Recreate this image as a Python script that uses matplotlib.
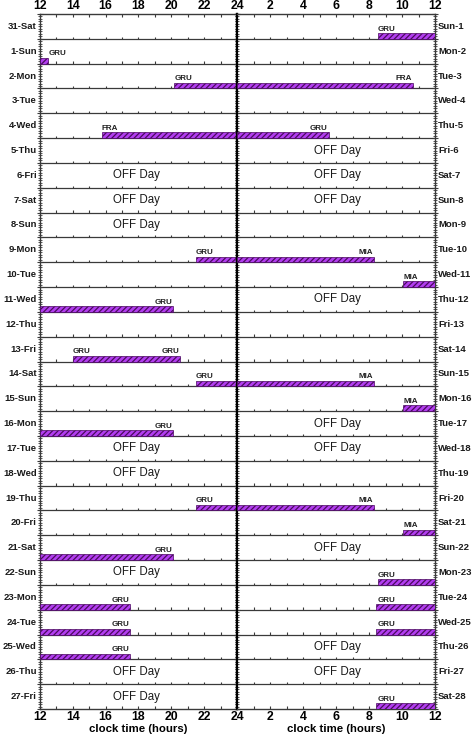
import matplotlib
matplotlib.use("Agg")
import matplotlib.pyplot as plt
import numpy as np
from matplotlib.transforms import blended_transform_factory

plt.rcParams['font.family'] = ['Liberation Sans', 'DejaVu Sans']
plt.rcParams['hatch.linewidth'] = 0.9

# ---- data ----
left_days = ["31-Sat", "1-Sun", "2-Mon", "3-Tue", "4-Wed", "5-Thu", "6-Fri", "7-Sat",
             "8-Sun", "9-Mon", "10-Tue", "11-Wed", "12-Thu", "13-Fri", "14-Sat", "15-Sun",
             "16-Mon", "17-Tue", "18-Wed", "19-Thu", "20-Fri", "21-Sat", "22-Sun", "23-Mon",
             "24-Tue", "25-Wed", "26-Thu", "27-Fri"]
right_days = ["Sun-1", "Mon-2", "Tue-3", "Wed-4", "Thu-5", "Fri-6", "Sat-7", "Sun-8",
              "Mon-9", "Tue-10", "Wed-11", "Thu-12", "Fri-13", "Sat-14", "Sun-15", "Mon-16",
              "Tue-17", "Wed-18", "Thu-19", "Fri-20", "Sat-21", "Sun-22", "Mon-23", "Tue-24",
              "Wed-25", "Thu-26", "Fri-27", "Sat-28"]

# duty bars: row index, start and end in continuous hours (12 = noon, 24 = midnight, 36 = next noon)
bar_rows  = [0, 1, 2, 4, 9, 10, 11, 13, 14, 15, 16, 19, 20, 21, 22, 23, 23, 24, 24, 25, 27]
bar_start = [32.55, 12.0, 20.18, 15.75, 21.48, 34.07, 12.0, 13.98, 21.48, 34.07, 12.0,
             21.48, 34.07, 12.0, 32.57, 12.0, 32.45, 12.0, 32.45, 12.0, 32.45]
bar_end   = [36.0, 12.5, 34.68, 29.58, 32.33, 36.0, 20.1, 20.52, 32.33, 36.0, 20.1,
             32.33, 36.0, 20.1, 36.0, 17.47, 36.0, 17.5, 36.0, 17.5, 36.0]

# airport labels
lab_rows = [0, 1, 2, 2, 4, 4, 9, 9, 10, 11, 13, 13, 14, 14, 15, 16, 19, 19, 20, 21, 22,
            23, 23, 24, 24, 25, 27]
lab_x    = [32.55, 12.5, 20.2, 34.6, 15.75, 29.5, 21.5, 32.25, 34.1, 20.05, 14.0, 20.5,
            21.5, 32.25, 34.1, 20.05, 21.5, 32.25, 34.1, 20.05, 32.5,
            17.45, 32.5, 17.45, 32.5, 17.45, 32.5]
lab_text = ["GRU", "GRU", "GRU", "FRA", "FRA", "GRU", "GRU", "MIA", "MIA", "GRU", "GRU", "GRU",
            "GRU", "MIA", "MIA", "GRU", "GRU", "MIA", "MIA", "GRU", "GRU",
            "GRU", "GRU", "GRU", "GRU", "GRU", "GRU"]
lab_ha   = ["left", "left", "left", "right", "left", "right", "left", "right", "left", "right",
            "left", "right", "left", "right", "left", "right", "left", "right", "left", "right",
            "left", "right", "left", "right", "left", "right", "left"]

# OFF days
off_left_rows  = [6, 7, 8, 17, 18, 22, 26, 27]
off_right_rows = [5, 6, 7, 11, 16, 17, 21, 25, 26]

nrows = len(left_days)
bar_color = '#b23ef0'
hatch_color = '#4a0a5e'
line_color = '#3a3a3a'
bar_h = 0.23

fig = plt.figure(figsize=(4.73, 7.38), dpi=100)
x0, xm, x1 = 40 / 473, 237 / 473, 435 / 473
yb, yt = (738 - 709) / 738, (738 - 14) / 738
axL = fig.add_axes([x0, yb, xm - x0, yt - yb])
axR = fig.add_axes([xm, yb, x1 - xm, yt - yb], sharey=axL)
axL.set_xlim(12, 24)
axR.set_xlim(0, 12)
axL.set_ylim(nrows, 0)


def draw_bar(row, s, e):
    # split into the two panels
    if s < 24:
        a, b = s, min(e, 24)
        axL.barh(row + 1 - bar_h / 2, b - a, left=a, height=bar_h, color=bar_color,
                 edgecolor=hatch_color, linewidth=0.5, hatch='//////', zorder=3)
    if e > 24:
        a, b = max(s, 24) - 24, e - 24
        axR.barh(row + 1 - bar_h / 2, b - a, left=a, height=bar_h, color=bar_color,
                 edgecolor=hatch_color, linewidth=0.5, hatch='//////', zorder=3)


for r, s, e in zip(bar_rows, bar_start, bar_end):
    draw_bar(r, s, e)

for r, x, t, ha in zip(lab_rows, lab_x, lab_text, lab_ha):
    ax = axL if x <= 24 else axR
    xx = x if x <= 24 else x - 24
    ax.text(xx, r + 1 - bar_h - 0.1, t, ha=ha, va='baseline', fontsize=5.8,
            fontweight='bold', color='#222222', zorder=4)

for r in off_left_rows:
    axL.text(17.9, r + 0.5, "OFF Day", ha='center', va='center', fontsize=8.3, color='#1a1a1a')
for r in off_right_rows:
    axR.text(6.1, r + 0.5, "OFF Day", ha='center', va='center', fontsize=8.3, color='#1a1a1a')

# row separators with small hour ticks
for ax, hrs in ((axL, np.arange(12, 25)), (axR, np.arange(0, 13))):
    for i in range(1, nrows):
        ax.axhline(i, color=line_color, lw=0.9, zorder=2)
        ax.vlines(hrs, i - 0.09, i, color=line_color, lw=0.8, zorder=2)

# day labels
trL = blended_transform_factory(axL.transAxes, axL.transData)
trR = blended_transform_factory(axR.transAxes, axR.transData)
for i in range(nrows):
    axL.text(-0.016, i + 0.5, left_days[i], transform=trL, ha='right', va='center',
             fontsize=6.8, fontweight='bold', color='#1a1a1a')
    axR.text(1.016, i + 0.5, right_days[i], transform=trR, ha='left', va='center',
             fontsize=6.8, fontweight='bold', color='#1a1a1a')

# axes styling
axL.set_xticks(np.arange(12, 25, 2))
axL.set_xticks(np.arange(12, 25, 1), minor=True)
axR.set_xticks(np.arange(2, 13, 2))
axR.set_xticks(np.arange(0, 13, 1), minor=True)
for ax in (axL, axR):
    ax.tick_params(axis='x', which='both', top=True, bottom=True, labeltop=True,
                   labelbottom=True, direction='in', length=2.5, width=0.8,
                   color=line_color, labelsize=8.8, pad=1.5)
    for lab in ax.get_xticklabels():
        lab.set_fontweight('bold')
    ax.set_yticks(np.arange(0, nrows + 1, 1))
    ax.set_yticks(np.arange(0, nrows + 0.01, 0.1), minor=True)
    ax.tick_params(axis='y', which='major', left=True, right=True, direction='inout',
                   length=4, width=0.8, color=line_color, labelleft=False, labelright=False)
    ax.tick_params(axis='y', which='minor', left=True, right=True, direction='inout',
                   length=2.5, width=0.6, color=line_color)
    for sp in ax.spines.values():
        sp.set_color(line_color)
        sp.set_linewidth(1.0)
    ax.set_xlabel("clock time (hours)", fontsize=8.2, fontweight='bold', labelpad=0.5)
axL.spines['right'].set_linewidth(1.6)
axL.spines['right'].set_color('black')
axR.spines['left'].set_linewidth(1.6)
axR.spines['left'].set_color('black')

fig.savefig("out.png", dpi=100)
